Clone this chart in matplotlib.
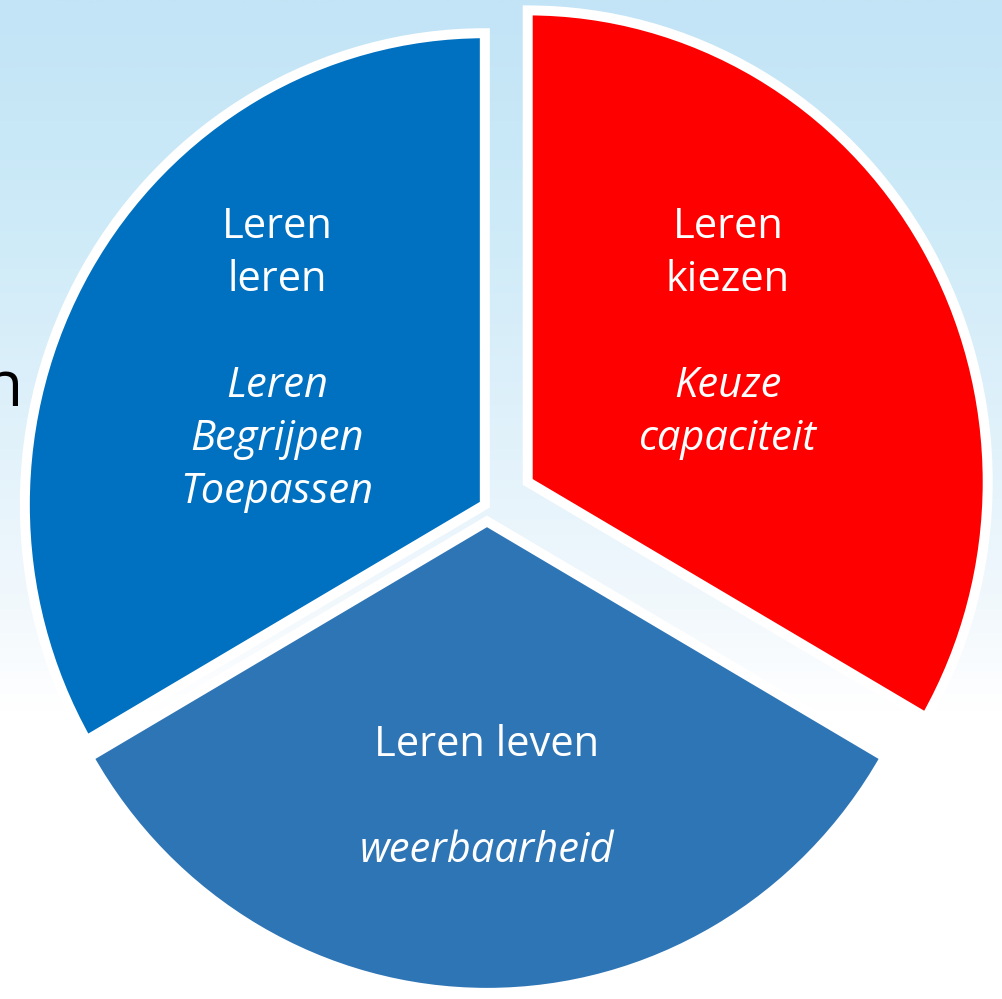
import numpy as np
import matplotlib
matplotlib.use("Agg")
import matplotlib.pyplot as plt
from matplotlib.colors import LinearSegmentedColormap

# ---- data ----
slice_names = ["Leren kiezen", "Leren leven", "Leren leren"]
slice_values = [1, 1, 1]
slice_colors = ["#ff0000", "#2e75b6", "#0070c0"]
explode = [47.0, 15.0, 2.5]   # offsets in data units

titles = {
    "Leren kiezen": ["Leren", "kiezen"],
    "Leren leven": ["Leren leven"],
    "Leren leren": ["Leren", "leren"],
}
subtitles = {
    "Leren kiezen": ["Keuze", "capaciteit"],
    "Leren leven": ["weerbaarheid"],
    "Leren leren": ["Leren", "Begrijpen", "Toepassen"],
}

W, H = 1002, 999
S = 1.025  # slight vertical stretch of the pie
FONT = "Open Sans"

fig = plt.figure(figsize=(W / 100, H / 100), dpi=100)
ax = fig.add_axes([0, 0, 1, 1])

# background gradient (top light blue -> white)
stops = [(0.0, (194, 228, 246)), (0.2, (204, 234, 248)), (0.45, (226, 242, 251)),
         (0.62, (243, 249, 253)), (0.71, (255, 255, 255)), (1.0, (255, 255, 255))]
cmap = LinearSegmentedColormap.from_list(
    "bg", [(p, tuple(c / 255 for c in col)) for p, col in stops])
grad = np.linspace(0, 1, 512).reshape(-1, 1)
ax.imshow(grad, aspect="auto", cmap=cmap, extent=(0, W, 0, H / S),
          origin="upper", zorder=0)

def yd(y_img):
    return (H - y_img) / S

# partially hidden word at left edge
ax.text(23, yd(389), "n", fontsize=46, family=FONT, color="black",
        ha="right", va="center", zorder=1)

R = 460
center = (487, yd(506))
wedges, _ = ax.pie(slice_values, colors=slice_colors, startangle=90,
                   counterclock=False, explode=explode, radius=R,
                   center=center, frame=True,
                   wedgeprops=dict(edgecolor="white", linewidth=7.2))
for w in wedges:
    w.set_zorder(2)
ax.set_xlim(0, W)
ax.set_ylim(0, H / S)
ax.set_aspect("auto")
ax.set_axis_off()

# text positions (image pixels)
text_pos = {
    "Leren kiezen": (728, 227),
    "Leren leven": (487, 745),
    "Leren leren": (277, 227),
}
LINE = 53
FS = 30
for name in slice_names:
    x, y0 = text_pos[name]
    y = y0
    for line in titles[name]:
        ax.text(x, yd(y), line, fontsize=FS, family=FONT, color="white",
                ha="center", va="center", zorder=3)
        y += LINE
    y += LINE
    for line in subtitles[name]:
        ax.text(x, yd(y), line, fontsize=FS, family=FONT, style="italic",
                color="white", ha="center", va="center", zorder=3)
        y += LINE

fig.savefig("out.png", dpi=100)
